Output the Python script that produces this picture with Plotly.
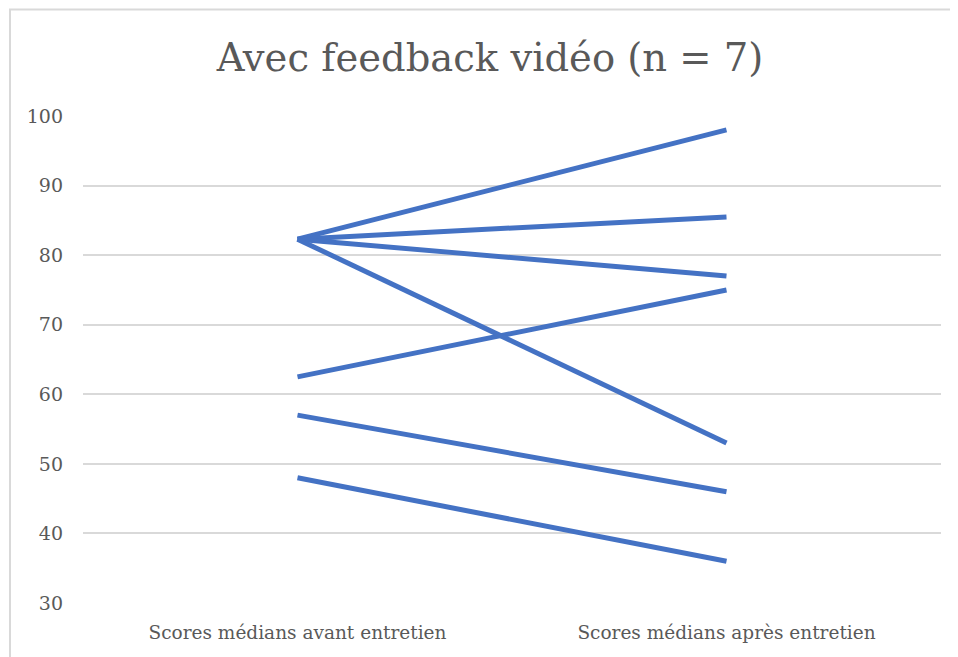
import plotly.graph_objects as go

# categories on the x axis
categories = ["Scores médians avant entretien", "Scores médians après entretien"]

# one pair of medians per participant (before, after)
before_scores = [82.3, 82.3, 82.3, 62.5, 82.3, 57, 48]
after_scores = [98, 85.5, 77, 75, 53, 46, 36]

y_ticks = [30, 40, 50, 60, 70, 80, 90, 100]

title_text = "Avec feedback vidéo (n = 7)"

line_color = "#4472C4"
text_color = "#595959"
grid_color = "#D9D9D9"
# DejaVu Serif is the serif face that actually renders in the sandbox
font_family = "DejaVu Serif"

fig = go.Figure()
for b, a in zip(before_scores, after_scores):
    fig.add_trace(
        go.Scatter(
            x=categories,
            y=[b, a],
            mode="lines",
            line=dict(color=line_color, width=5),
            showlegend=False,
            hoverinfo="y",
        )
    )

# the page puts the plot 8px in from the top-left corner
fig.update_layout(
    width=958,
    height=657,
    margin=dict(l=75, r=25, t=108, b=62),
    paper_bgcolor="white",
    plot_bgcolor="white",
    font=dict(family=font_family, color=text_color),
    title=dict(
        text=title_text,
        x=482 / 958,
        xref="container",
        xanchor="center",
        y=1 - 50 / 657,
        yref="container",
        yanchor="middle",
        font=dict(size=38.5, color=text_color, family=font_family),
    ),
)

fig.update_xaxes(
    type="category",
    range=[-0.5, 1.5],
    showgrid=False,
    showline=False,
    zeroline=False,
    tickfont=dict(size=18.5, color=text_color, family=font_family),
    ticklabelstandoff=16,
)
fig.update_yaxes(
    range=[30, 100],
    tickvals=y_ticks,
    showgrid=True,
    gridcolor=grid_color,
    gridwidth=1.5,
    zeroline=False,
    showline=False,
    tickfont=dict(size=19, color=text_color, family=font_family),
    ticklabelstandoff=19,
)

# light chart-area frame that runs off the right and bottom of the picture
fig.add_shape(
    type="rect",
    xref="paper",
    yref="paper",
    x0=(10 - 83) / 858,
    x1=1.3,
    y0=-0.3,
    y1=(603 - 9.5) / 487,
    line=dict(color=grid_color, width=2),
    layer="below",
)

fig.write_html("out.html")
